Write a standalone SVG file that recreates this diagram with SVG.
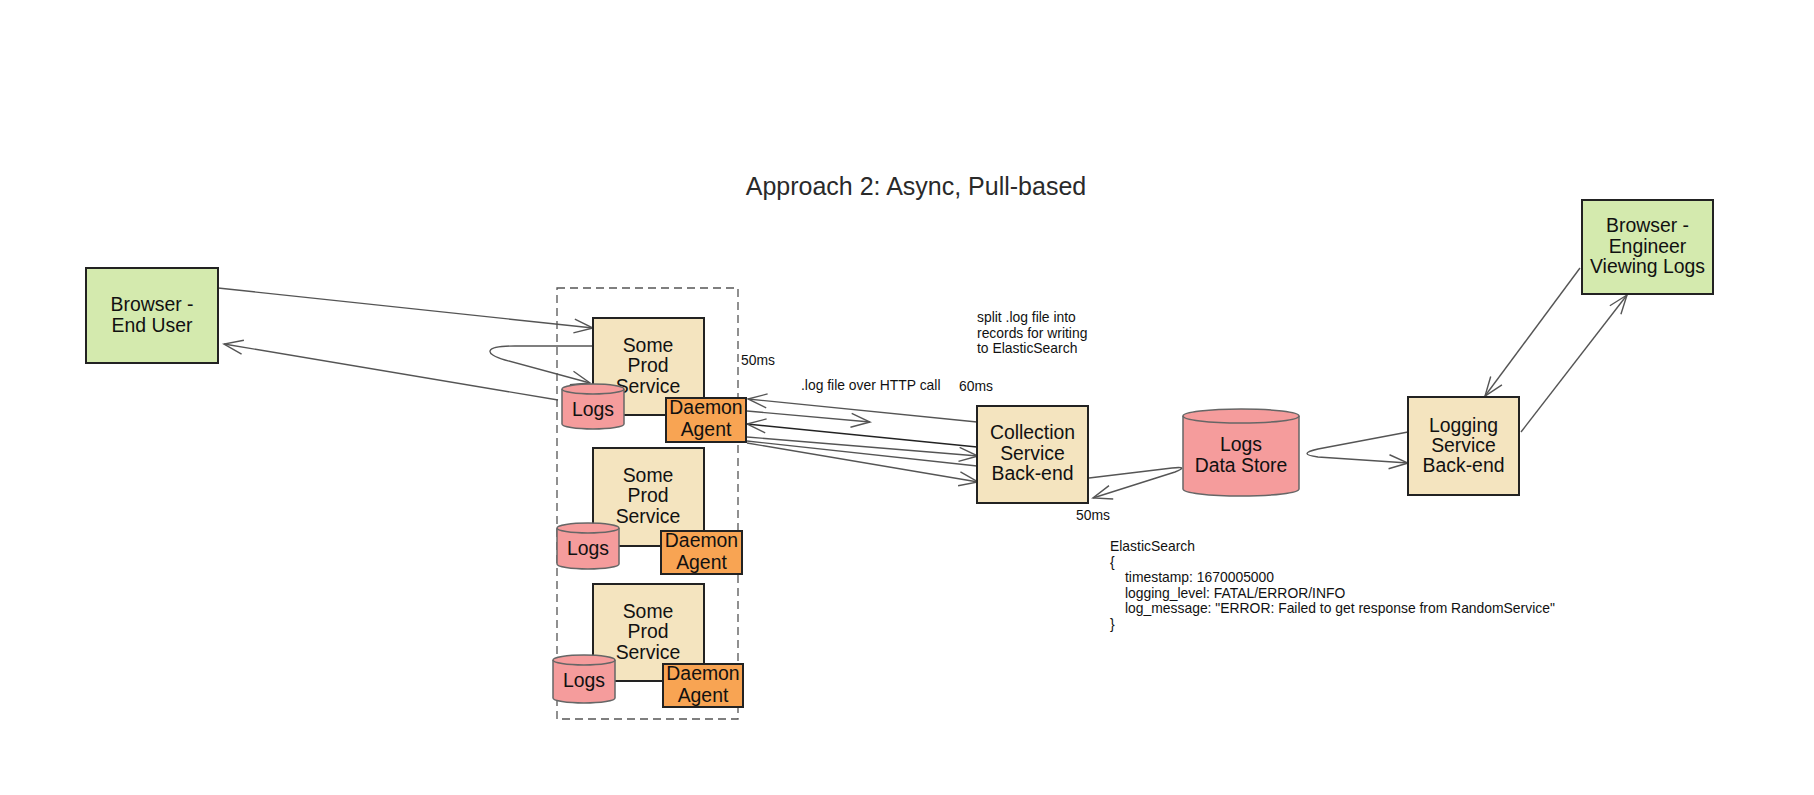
<svg xmlns="http://www.w3.org/2000/svg" width="1814" height="795" viewBox="0 0 1814 795">
<defs>
<style>
.box{stroke:#222;stroke-width:2}
.green{fill:#d4eaae}
.tan{fill:#f4e4bf}
.orange{fill:#f8a453}
.cyl{fill:#f59c9c;stroke:#666;stroke-width:1.5}
.lbl{font-family:"Liberation Sans",Arial,sans-serif;font-size:19.4px;fill:#111;text-anchor:middle}
.sm{font-family:"Liberation Sans",Arial,sans-serif;font-size:13.9px;fill:#111}
.title{font-family:"Liberation Sans",Arial,sans-serif;font-size:25px;fill:#2a2a2a;text-anchor:middle}
.edge{fill:none;stroke:#555;stroke-width:1.4}
.dark{stroke:#222}
.arr{marker-end:url(#open)}
</style>
<marker id="open" markerUnits="userSpaceOnUse" viewBox="0 0 22 16" refX="20" refY="8" markerWidth="22" markerHeight="16" orient="auto">
<path d="M1,1 L20,8 L1,15" fill="none" stroke="#555" stroke-width="1.4"/>
</marker>
</defs>
<rect width="1814" height="795" fill="#ffffff"/>
<text class="title" x="916" y="195">Approach 2: Async, Pull-based</text>

<g id="container">
<rect x="557" y="288" width="181" height="431" fill="none" stroke="#555" stroke-width="1.3" stroke-dasharray="8 5"/>
</g>

<g id="connectors">
<path class="edge arr" d="M218,288 L593,328"/>
<path class="edge arr" d="M558,400 L224,344"/>
<path class="edge arr" d="M595,346 L515,346 C483,346 484,354 505,360 L590,383"/>
<path class="edge arr" d="M977,422 L748,399"/>
<path class="edge arr" d="M747,411 L870,422"/>
<path class="edge arr dark" d="M977,447 L747,424"/>
<path class="edge arr" d="M747,437 L978,456"/>
<path class="edge" d="M747,441 L977,466"/>
<path class="edge arr" d="M747,443 L978,482"/>
<path class="edge arr" d="M1089,478 L1172,468 Q1190,466 1175,472 L1093,498"/>
<path class="edge arr" d="M1408,432 L1318,449 Q1296,454 1318,457 L1408,463"/>
<path class="edge arr" d="M1580,268 L1485,396"/>
<path class="edge arr" d="M1521,432 L1627,295"/>
</g>

<g id="browser-end-user">
<rect class="box green" x="86" y="268" width="132" height="95"/>
<text class="lbl" x="152" y="311">Browser -</text>
<text class="lbl" x="152" y="332">End User</text>
</g>

<g id="prod-service-1">
<rect class="box tan" x="593" y="318" width="111" height="97"/>
<text class="lbl" x="648" y="352">Some</text>
<text class="lbl" x="648" y="372">Prod</text>
<text class="lbl" x="648" y="393">Service</text>
</g>
<g id="logs-1">
<path class="cyl" d="M562,389 A31,5 0 0 1 624,389 L624,424 A31,5 0 0 1 562,424 Z"/>
<path d="M562,389 A31,5 0 0 0 624,389" fill="none" stroke="#666" stroke-width="1.5"/>
<text class="lbl" x="593" y="416">Logs</text>
</g>
<g id="daemon-1">
<rect class="box orange" x="666" y="398" width="80" height="44"/>
<text class="lbl" x="706" y="414">Daemon</text>
<text class="lbl" x="706" y="436">Agent</text>
</g>

<g id="prod-service-2">
<rect class="box tan" x="593" y="448" width="111" height="98"/>
<text class="lbl" x="648" y="482">Some</text>
<text class="lbl" x="648" y="502">Prod</text>
<text class="lbl" x="648" y="523">Service</text>
</g>
<g id="logs-2">
<path class="cyl" d="M557,528 A31,5 0 0 1 619,528 L619,564 A31,5 0 0 1 557,564 Z"/>
<path d="M557,528 A31,5 0 0 0 619,528" fill="none" stroke="#666" stroke-width="1.5"/>
<text class="lbl" x="588" y="555">Logs</text>
</g>
<g id="daemon-2">
<rect class="box orange" x="661" y="531" width="81" height="43"/>
<text class="lbl" x="701.5" y="547">Daemon</text>
<text class="lbl" x="701.5" y="569">Agent</text>
</g>

<g id="prod-service-3">
<rect class="box tan" x="593" y="584" width="111" height="97"/>
<text class="lbl" x="648" y="618">Some</text>
<text class="lbl" x="648" y="638">Prod</text>
<text class="lbl" x="648" y="659">Service</text>
</g>
<g id="logs-3">
<path class="cyl" d="M553,660 A31,5 0 0 1 615,660 L615,698 A31,5 0 0 1 553,698 Z"/>
<path d="M553,660 A31,5 0 0 0 615,660" fill="none" stroke="#666" stroke-width="1.5"/>
<text class="lbl" x="584" y="687">Logs</text>
</g>
<g id="daemon-3">
<rect class="box orange" x="663" y="664" width="80" height="43"/>
<text class="lbl" x="703" y="680">Daemon</text>
<text class="lbl" x="703" y="702">Agent</text>
</g>

<g id="collection-service">
<rect class="box tan" x="977" y="406" width="111" height="97"/>
<text class="lbl" x="1032.5" y="439">Collection</text>
<text class="lbl" x="1032.5" y="460">Service</text>
<text class="lbl" x="1032.5" y="480">Back-end</text>
</g>

<g id="logs-data-store">
<path class="cyl" d="M1183,416 A58,7 0 0 1 1299,416 L1299,489 A58,7 0 0 1 1183,489 Z"/>
<path d="M1183,416 A58,7 0 0 0 1299,416" fill="none" stroke="#666" stroke-width="1.5"/>
<text class="lbl" x="1241" y="451">Logs</text>
<text class="lbl" x="1241" y="472">Data Store</text>
</g>

<g id="logging-service">
<rect class="box tan" x="1408" y="397" width="111" height="98"/>
<text class="lbl" x="1463.5" y="432">Logging</text>
<text class="lbl" x="1463.5" y="452">Service</text>
<text class="lbl" x="1463.5" y="472">Back-end</text>
</g>

<g id="browser-engineer">
<rect class="box green" x="1582" y="200" width="131" height="94"/>
<text class="lbl" x="1647.5" y="232">Browser -</text>
<text class="lbl" x="1647.5" y="253">Engineer</text>
<text class="lbl" x="1647.5" y="273">Viewing Logs</text>
</g>

<g id="labels">
<text class="sm" x="741" y="365">50ms</text>
<text class="sm" x="801" y="390">.log file over HTTP call</text>
<text class="sm" x="959" y="391">60ms</text>
<text class="sm" x="977" y="322">split .log file into</text>
<text class="sm" x="977" y="337.5">records for writing</text>
<text class="sm" x="977" y="353">to ElasticSearch</text>
<text class="sm" x="1076" y="520">50ms</text>
<text class="sm" x="1110" y="551">ElasticSearch</text>
<text class="sm" x="1110" y="566.5">{</text>
<text class="sm" x="1125" y="582">timestamp: 1670005000</text>
<text class="sm" x="1125" y="597.5">logging_level: FATAL/ERROR/INFO</text>
<text class="sm" x="1125" y="613">log_message: "ERROR: Failed to get response from RandomService"</text>
<text class="sm" x="1110" y="628.5">}</text>
</g>
</svg>
